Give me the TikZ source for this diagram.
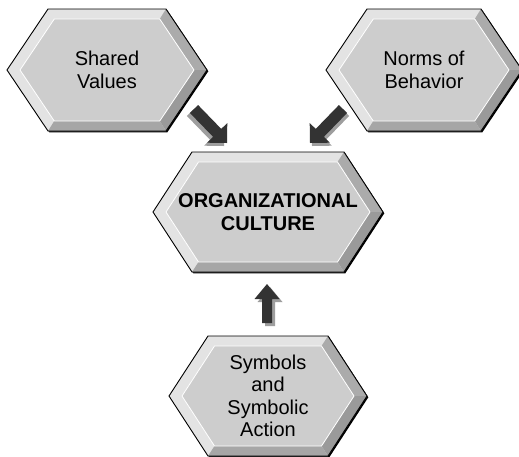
\documentclass[tikz,border=0pt]{standalone}
\usepackage{fontspec}
\setmainfont{Liberation Sans}
\usetikzlibrary{calc}
\definecolor{bevlight}{HTML}{E3E3E3}
\definecolor{bevur}{HTML}{ABABAB}
\definecolor{bevlr}{HTML}{9A9A9A}
\definecolor{bevbot}{HTML}{A6A6A6}
\definecolor{hexface}{HTML}{CDCDCD}
\definecolor{arrowdark}{HTML}{333333}
\definecolor{arrowgray}{HTML}{9E9E9E}
\tikzset{
  hextext/.style={align=center, font=\fontsize{20}{22.5}\selectfont, text=black, inner sep=0pt},
  hexbold/.style={hextext, font=\fontsize{20}{22.5}\selectfont\bfseries},
  arrowfill/.style={fill=arrowdark},
  arrowshadow/.style={fill=arrowgray},
}
% #1 name, #2 cx, #3 cy, #4 half width, #5 half height, #6 corner offset, #7 text style, #8 text
\newcommand\hexbox[8]{%
  \pgfmathsetmacro\hxL{#2-#4}\pgfmathsetmacro\hxR{#2+#4}%
  \pgfmathsetmacro\hxTL{#2-#4+#6}\pgfmathsetmacro\hxTR{#2+#4-#6}%
  \pgfmathsetmacro\hxT{#3-#5}\pgfmathsetmacro\hxB{#3+#5}%
  \pgfmathsetmacro\ihh{#5-10}\pgfmathsetmacro\ihw{#4-13}\pgfmathsetmacro\ioff{#6*\ihh/#5}%
  \pgfmathsetmacro\ixL{#2-\ihw}\pgfmathsetmacro\ixR{#2+\ihw}%
  \pgfmathsetmacro\ixTL{#2-\ihw+\ioff}\pgfmathsetmacro\ixTR{#2+\ihw-\ioff}%
  \pgfmathsetmacro\iyT{#3-\ihh}\pgfmathsetmacro\iyB{#3+\ihh}%
  \pgfmathsetmacro\sL{\hxL+1.3}\pgfmathsetmacro\sR{\hxR+1.3}%
  \pgfmathsetmacro\sTL{\hxTL+1.3}\pgfmathsetmacro\sTR{\hxTR+1.3}%
  \pgfmathsetmacro\sT{\hxT+1.3}\pgfmathsetmacro\sB{\hxB+1.3}\pgfmathsetmacro\sC{#3+1.3}%
  \fill[black] (\sL,\sC) -- (\sTL,\sT) -- (\sTR,\sT) -- (\sR,\sC) -- (\sTR,\sB) -- (\sTL,\sB) -- cycle;
  \fill[bevlight] (\hxL,#3) -- (\hxTL,\hxT) -- (\hxTR,\hxT) -- (\hxR,#3) -- (\hxTR,\hxB) -- (\hxTL,\hxB) -- cycle;
  \fill[bevur] (\hxTR,\hxT) -- (\hxR,#3) -- (\ixR,#3) -- (\ixTR,\iyT) -- cycle;
  \fill[bevlr] (\hxR,#3) -- (\hxTR,\hxB) -- (\ixTR,\iyB) -- (\ixR,#3) -- cycle;
  \fill[bevbot] (\hxTR,\hxB) -- (\hxTL,\hxB) -- (\ixTL,\iyB) -- (\ixTR,\iyB) -- cycle;
  \filldraw[fill=hexface, draw=white, line width=0.8pt] (\ixL,#3) -- (\ixTL,\iyT) -- (\ixTR,\iyT) -- (\ixR,#3) -- (\ixTR,\iyB) -- (\ixTL,\iyB) -- cycle;
  \draw[black, line width=0.9pt, line join=miter] (\hxL,#3) -- (\hxTL,\hxT) -- (\hxTR,\hxT) -- (\hxR,#3) -- (\hxTR,\hxB) -- (\hxTL,\hxB) -- cycle;
  \node[#7] (#1) at (#2,#3) {#8};
}
% #1 style, #2 tail coordinate, #3 tip coordinate, #4 shaft half width, #5 head half width, #6 head length
\newcommand\blockarrow[6]{%
  \coordinate (ba-base) at ($(#3)!#6!(#2)$);
  \fill[#1] ($(#2)!#4!90:(#3)$) -- ($(ba-base)!#4!90:(#3)$) -- ($(ba-base)!#5!90:(#3)$) -- (#3)
    -- ($(ba-base)!#5!-90:(#3)$) -- ($(ba-base)!#4!-90:(#3)$) -- ($(#2)!#4!-90:(#3)$) -- cycle;
}
\begin{document}
\begin{tikzpicture}[x=1pt, y=-1pt]
  \useasboundingbox (0,0) rectangle (519,456);
  \clip (0,0) rectangle (519,456);
  \fill[white] (0,0) rectangle (519,456);

  \hexbox{shared}{107}{70}{100}{61}{41}{hextext}{Shared\\Values}
  \hexbox{norms}{424}{70}{98}{61}{41}{hextext}{Norms of\\Behavior}
  \hexbox{culture}{268}{212}{115}{60}{39}{hexbold}{ORGANIZATIONAL\\CULTURE}
  \hexbox{symbols}{268}{396}{99}{60}{39}{hextext}{Symbols\\and\\Symbolic\\Action}

  % arrow end points
  \coordinate (a1s) at (194,109);  \coordinate (a1t) at (227,143);
  \coordinate (a1ss) at (191,112); \coordinate (a1ts) at (224,146);
  \coordinate (a2s) at (343,109);  \coordinate (a2t) at (310,143);
  \coordinate (a2ss) at (345,112); \coordinate (a2ts) at (312,146);
  \coordinate (a3s) at (267,323);  \coordinate (a3t) at (267,284);
  \coordinate (a3ss) at (270,326); \coordinate (a3ts) at (270,287);

  \blockarrow{arrowshadow}{a1ss}{a1ts}{5.7pt}{14.1pt}{14.1pt}
  \blockarrow{arrowfill}{a1s}{a1t}{5.7pt}{14.1pt}{14.1pt}
  \blockarrow{arrowshadow}{a2ss}{a2ts}{5.7pt}{14.1pt}{14.1pt}
  \blockarrow{arrowfill}{a2s}{a2t}{5.7pt}{14.1pt}{14.1pt}
  \blockarrow{arrowshadow}{a3ss}{a3ts}{5pt}{12.5pt}{15pt}
  \blockarrow{arrowfill}{a3s}{a3t}{5pt}{12.5pt}{15pt}
\end{tikzpicture}
\end{document}
